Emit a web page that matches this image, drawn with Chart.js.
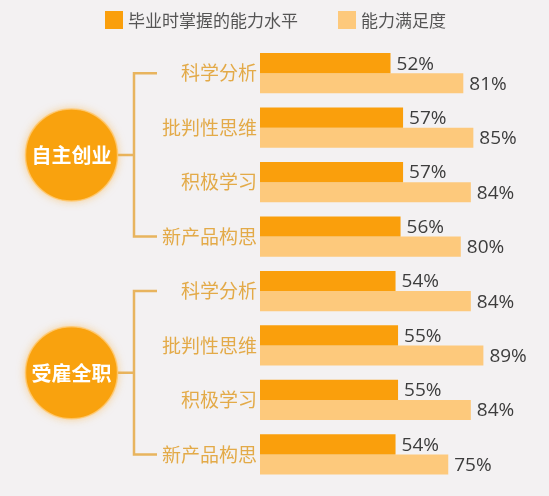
<!DOCTYPE html>
<html>
<head>
<meta charset="utf-8">
<script src="https://cdn.jsdelivr.net/npm/chart.js@4"></script>
<style>
  html, body { margin: 0; padding: 0; background: #f3f1f2; }
  #wrap { width: 549px; height: 496px; position: relative; }
</style>
</head>
<body>
<div id="wrap"><canvas id="chart"></canvas></div>
<script>
// données
const groups = ['自主创业', '受雇全职'];
const skills = ['科学分析', '批判性思维', '积极学习', '新产品构思'];
const seriesNames = ['毕业时掌握的能力水平', '能力满足度'];
const masteredLevel = [52, 57, 57, 56, 54, 55, 55, 54];
const satisfaction = [81, 85, 84, 80, 84, 89, 84, 75];

const darkOrange = '#fa9f0c';
const lightOrange = '#fdc97c';
const lineColor = '#e8b45e';

const labels = [];
groups.forEach(() => skills.forEach(s => labels.push(s)));

const decor = {
    id: 'decor',
    beforeDatasetsDraw(chart) {
        const c = chart.ctx;
        const y = chart.scales.y;

        // légende
        c.save();
        c.font = '17px "Noto Sans CJK SC"';
        c.textBaseline = 'middle';
        c.fillStyle = darkOrange;
        c.fillRect(105, 11, 18, 18);
        c.fillStyle = '#555555';
        c.fillText(seriesNames[0], 128, 21);
        c.fillStyle = lightOrange;
        c.fillRect(338, 11, 18, 18);
        c.fillStyle = '#555555';
        c.fillText(seriesNames[1], 361, 21);
        c.restore();

        // accolades + cercles
        groups.forEach((g, i) => {
            const first = i * skills.length;
            const last = first + skills.length - 1;
            const top = y.getPixelForValue(first);
            const bottom = y.getPixelForValue(last);
            const mid = (top + bottom) / 2;
            const cx = 71.5, r = 46, lx = 134;

            c.save();
            c.strokeStyle = lineColor;
            c.lineWidth = 2.5;
            c.beginPath();
            c.moveTo(157, top); c.lineTo(lx, top); c.lineTo(lx, bottom); c.lineTo(157, bottom);
            c.moveTo(cx + r, mid); c.lineTo(lx, mid);
            c.stroke();

            c.shadowColor = 'rgba(250, 170, 40, 0.55)';
            c.shadowBlur = 8;
            c.fillStyle = '#f9a20e';
            c.beginPath();
            c.arc(cx, mid, r, 0, Math.PI * 2);
            c.fill();
            c.shadowBlur = 0;
            c.strokeStyle = 'rgba(255, 200, 110, 0.8)';
            c.lineWidth = 1.5;
            c.stroke();

            c.fillStyle = '#ffffff';
            c.font = 'bold 20px "Noto Sans CJK SC"';
            c.textAlign = 'center';
            c.textBaseline = 'middle';
            c.fillText(g, cx, mid + 1);
            c.restore();
        });
    },
    afterDatasetsDraw(chart) {
        const c = chart.ctx;
        c.save();
        c.font = '19px "Open Sans"';
        c.fillStyle = '#3d3d3d';
        c.textBaseline = 'middle';
        chart.data.datasets.forEach((ds, i) => {
            chart.getDatasetMeta(i).data.forEach((bar, j) => {
                c.fillText(ds.data[j] + '%', bar.x + 6, bar.y + 1);
            });
        });
        c.restore();
    }
};

new Chart(document.getElementById('chart'), {
    type: 'bar',
    data: {
        labels: labels,
        datasets: [
            { label: seriesNames[0], data: masteredLevel, backgroundColor: darkOrange },
            { label: seriesNames[1], data: satisfaction, backgroundColor: lightOrange }
        ]
    },
    options: {
        indexAxis: 'y',
        responsive: true,
        maintainAspectRatio: false,
        animation: false,
        categoryPercentage: 0.74,
        barPercentage: 1,
        layout: { padding: { top: 46, bottom: 1, left: 0, right: 38 } },
        scales: {
            x: { display: false, min: 0, max: 100 },
            y: {
                grid: { display: false, drawTicks: false },
                border: { display: false },
                ticks: {
                    padding: 3,
                    color: '#e3aa48',
                    font: { family: '"Noto Sans CJK SC"', size: 19 }
                },
                afterFit: scale => { scale.width = 260; }
            }
        },
        plugins: {
            legend: { display: false },
            tooltip: { enabled: false }
        }
    },
    plugins: [decor]
});
</script>
</body>
</html>
